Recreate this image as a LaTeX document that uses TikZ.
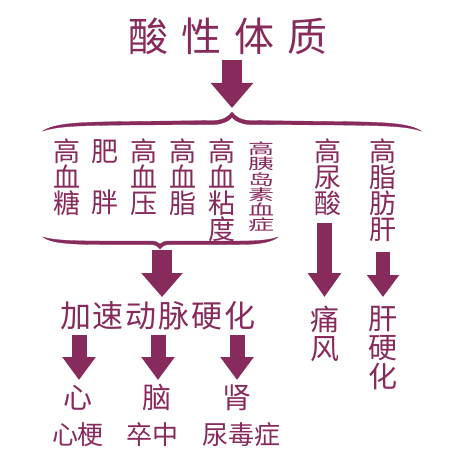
\documentclass[tikz,border=0pt]{standalone}
\usepackage{fontspec}
\setmainfont{Noto Sans CJK SC}
\usetikzlibrary{arrows.meta}
\definecolor{plum}{RGB}{135,42,92}
\tikzset{
  every node/.style={text=plum, inner sep=0pt},
  vcol/.style={font=\fontsize{27}{25.8}\selectfont, align=center, anchor=north},
  vcolb/.style={font=\fontsize{29}{29}\selectfont, align=center, anchor=north},
  blk/.style={draw=plum, line width=#1},
  bigtip/.style={-{Triangle[length=25pt,width=41pt]}},
  midtip/.style={-{Triangle[length=24pt,width=32pt]}},
  brace/.style={fill=plum, draw=plum, line width=0.3pt}
}
\begin{document}
\begin{tikzpicture}[x=1pt,y=-1pt]
\useasboundingbox (0,0) rectangle (461,452);
% title
\node[font=\fontsize{40}{40}\selectfont] (title) at (228,36) {酸\hspace{13pt}性\hspace{13pt}体\hspace{13pt}质};
% big arrow
\coordinate (a1s) at (232,60);
\coordinate (a1e) at (232,108);
\draw[blk=20pt, bigtip] (a1s) -- (a1e);
% top brace
\path[brace] (43,131) .. controls (55,123) and (80,122) .. (130,121.5)
  -- (215,120.5) .. controls (224,120) and (229,116) .. (232,112)
  .. controls (235,116) and (240,120) .. (249,120.5)
  -- (334,121.5) .. controls (384,122) and (409,123) .. (421,131)
  .. controls (406,126) and (384,125.5) .. (334,125)
  -- (249,124.5) .. controls (241,124) and (235,121) .. (232,117.5)
  .. controls (229,121) and (223,124) .. (215,124.5)
  -- (130,125) .. controls (80,125.5) and (58,126) .. (43,131) -- cycle;
% columns
\node[vcol] (c1) at (67,139) {高\\血\\糖};
\node[vcol] (c2) at (105,139) {肥\\\phantom{胖}\\胖};
\node[vcol] (c3) at (144,139) {高\\血\\压};
\node[vcol] (c4) at (183,139) {高\\血\\脂};
\node[vcol] (c5) at (222,139) {高\\血\\粘\\度};
\node[anchor=north] (c6) at (261,142) {\scalebox{1}[0.58]{\begin{minipage}{27pt}\centering\fontsize{26}{26}\selectfont 高\\胰\\岛\\素\\血\\症\end{minipage}}};
\node[vcol] (c7) at (328,139) {高\\尿\\酸};
\node[vcol] (c8) at (383,139) {高\\脂\\肪\\肝};
% lower brace
\path[brace] (43,237) .. controls (50,243) and (70,244.5) .. (100,244.5)
  -- (150,244.5) .. controls (155,244.5) and (158,246) .. (160,249)
  .. controls (162,246) and (165,244.5) .. (170,244.5)
  -- (240,244.5) .. controls (260,244.5) and (272,242) .. (278,237)
  .. controls (270,240) and (258,241) .. (240,241)
  -- (170,241) .. controls (165,241) and (162,242) .. (160,244)
  .. controls (158,242) and (155,241) .. (150,241)
  -- (100,241) .. controls (70,241) and (52,240) .. (43,237) -- cycle;
% arrow to 加速动脉硬化
\coordinate (a2s) at (162,250);
\coordinate (a2e) at (162,297);
\draw[blk=20pt, -{Triangle[length=24pt,width=40pt]}] (a2s) -- (a2e);
% right arrows
\coordinate (a3s) at (324.5,223);
\coordinate (a3e) at (324.5,297);
\draw[blk=15pt, midtip] (a3s) -- (a3e);
\coordinate (a4s) at (383,252);
\coordinate (a4e) at (383,297);
\draw[blk=14pt, -{Triangle[length=22pt,width=31pt]}] (a4s) -- (a4e);
% 加速动脉硬化
\node[font=\fontsize{31}{31}\selectfont] (as) at (158,316) {加\hspace{2pt}速\hspace{2pt}动\hspace{2pt}脉\hspace{2pt}硬\hspace{2pt}化};
\node[vcolb] (tf) at (325,306) {痛\\风};
\node[vcolb] (gy) at (383,306) {肝\\硬\\化};
% small arrows
\coordinate (s1s) at (79,335);
\coordinate (s1e) at (79,380);
\draw[blk=15pt, -{Triangle[length=23pt,width=32pt]}] (s1s) -- (s1e);
\coordinate (s2s) at (158,335);
\coordinate (s2e) at (158,380);
\draw[blk=15pt, -{Triangle[length=23pt,width=32pt]}] (s2s) -- (s2e);
\coordinate (s3s) at (237,335);
\coordinate (s3e) at (237,380);
\draw[blk=15pt, -{Triangle[length=23pt,width=32pt]}] (s3s) -- (s3e);
% organs
\node[font=\fontsize{29}{29}\selectfont] (xin) at (78,398) {心};
\node[font=\fontsize{29}{29}\selectfont] (nao) at (157,398) {脑};
\node[font=\fontsize{29}{29}\selectfont] (shen) at (237,398) {肾};
\node[font=\fontsize{26}{26}\selectfont] (xg) at (78,435) {心梗};
\node[font=\fontsize{26}{26}\selectfont] (zz) at (152,435) {卒中};
\node[font=\fontsize{26}{26}\selectfont] (ndz) at (241,435) {尿毒症};
\end{tikzpicture}
\end{document}
